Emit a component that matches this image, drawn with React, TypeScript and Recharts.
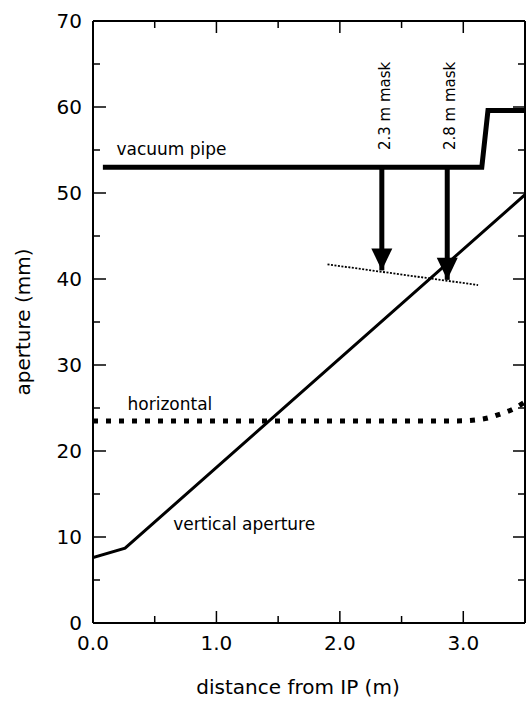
import React from "react";
import { LineChart, Line, XAxis, YAxis, ReferenceDot } from "recharts";

// values (x in m, y in mm)
const pipeX = [0.08, 3.15, 3.2, 3.5];
const pipeY = [53, 53, 59.6, 59.6];

const vertX = [0, 0.26, 3.5];
const vertY = [7.6, 8.7, 49.8];

const horizX = [0, 2.95, 3.15, 3.3, 3.42, 3.5];
const horizY = [23.5, 23.5, 23.7, 24.3, 25.0, 25.7];

const maskLineX = [1.9, 3.12];
const maskLineY = [41.7, 39.3];

const maskX = [2.34, 2.87];
const maskTipY = [41.0, 39.9];
const maskNames = ["2.3 m mask", "2.8 m mask"];
const maskLabelY = 55.0;

const xTicks = [0, 0.5, 1, 1.5, 2, 2.5, 3, 3.5];
const yTicks = [0, 5, 10, 15, 20, 25, 30, 35, 40, 45, 50, 55, 60, 65, 70];

const notes = [
  { text: "vacuum pipe", x: 0.19, y: 54.4 },
  { text: "horizontal", x: 0.28, y: 24.8 },
  { text: "vertical aperture", x: 0.65, y: 10.8 },
];

const toPoints = (xs: number[], ys: number[]) =>
  xs.map((x, i) => ({ x, y: ys[i] }));

const FONT = "DejaVu Sans";

const BottomTick = ({ x, y, payload }: any) => {
  const major = payload.value % 1 === 0;
  return (
    <g>
      <line x1={x} x2={x} y1={y} y2={y - (major ? 12 : 7)} stroke="#000" strokeWidth={1.5} />
      {major && (
        <text x={x} y={y + 27} textAnchor="middle" fontSize={20} fontFamily={FONT} fill="#000">
          {payload.value.toFixed(1)}
        </text>
      )}
    </g>
  );
};

const TopTick = ({ x, y, payload }: any) => {
  const major = payload.value % 1 === 0;
  return <line x1={x} x2={x} y1={y} y2={y + (major ? 12 : 7)} stroke="#000" strokeWidth={1.5} />;
};

const LeftTick = ({ x, y, payload }: any) => {
  const major = payload.value % 10 === 0;
  return (
    <g>
      <line x1={x} x2={x + (major ? 13 : 7)} y1={y} y2={y} stroke="#000" strokeWidth={1.5} />
      {major && (
        <text x={x - 11} y={y + 7} textAnchor="end" fontSize={20} fontFamily={FONT} fill="#000">
          {payload.value}
        </text>
      )}
    </g>
  );
};

const RightTick = ({ x, y, payload }: any) => {
  const major = payload.value % 10 === 0;
  return <line x1={x} x2={x - (major ? 12 : 7)} y1={y} y2={y} stroke="#000" strokeWidth={1.5} />;
};

const ArrowHead = (props: any) => {
  const { cx, cy, index } = props;
  if (index !== 1) return <g key={`a${index}`} />;
  return (
    <path
      key={`a${index}`}
      d={`M${cx - 10.5},${cy - 22} L${cx + 10.5},${cy - 22} L${cx},${cy} Z`}
      fill="#000"
    />
  );
};

export default function App() {
  return (
    <div style={{ position: "absolute", left: 0, top: 0, background: "#fff" }}>
      <LineChart width={528} height={702} margin={{ top: 20, right: 2, bottom: 0, left: 0 }}>
        <XAxis
          xAxisId="b"
          type="number"
          dataKey="x"
          domain={[0, 3.5]}
          allowDataOverflow
          ticks={xTicks}
          interval={0}
          height={79}
          tickSize={0}
          tickMargin={0}
          tickLine={false}
          tick={<BottomTick />}
          axisLine={{ stroke: "#000", strokeWidth: 2 }}
          label={{
            content: () => (
              <text x={298} y={694} textAnchor="middle" fontSize={20} fontFamily={FONT} fill="#000">
                distance from IP (m)
              </text>
            ),
          }}
        />
        <XAxis
          xAxisId="t"
          orientation="top"
          type="number"
          dataKey="x"
          domain={[0, 3.5]}
          allowDataOverflow
          ticks={xTicks}
          interval={0}
          height={1}
          tickSize={0}
          tickMargin={0}
          tickLine={false}
          tick={<TopTick />}
          axisLine={{ stroke: "#000", strokeWidth: 2 }}
        />
        <YAxis
          yAxisId="l"
          type="number"
          domain={[0, 70]}
          allowDataOverflow
          ticks={yTicks}
          interval={0}
          width={93}
          tickSize={0}
          tickMargin={0}
          tickLine={false}
          tick={<LeftTick />}
          axisLine={{ stroke: "#000", strokeWidth: 2 }}
          label={{
            content: ({ viewBox }: any) => (
              <text
                transform={`translate(30, ${viewBox.y + viewBox.height / 2}) rotate(-90)`}
                textAnchor="middle"
                fontSize={20}
                fontFamily={FONT}
                fill="#000"
              >
                aperture (mm)
              </text>
            ),
          }}
        />
        <YAxis
          yAxisId="r"
          orientation="right"
          type="number"
          domain={[0, 70]}
          allowDataOverflow
          ticks={yTicks}
          interval={0}
          width={1}
          tickSize={0}
          tickMargin={0}
          tickLine={false}
          tick={<RightTick />}
          axisLine={{ stroke: "#000", strokeWidth: 2 }}
        />

        {/* invisible series so the top and right frame axes get drawn */}
        <Line
          xAxisId="t"
          yAxisId="r"
          data={toPoints(vertX, vertY)}
          dataKey="y"
          stroke="none"
          dot={false}
          activeDot={false}
          isAnimationActive={false}
        />

        <Line
          xAxisId="b"
          yAxisId="l"
          data={toPoints(horizX, horizY)}
          dataKey="y"
          type="monotone"
          stroke="#000"
          strokeWidth={5}
          strokeDasharray="5 8"
          dot={false}
          isAnimationActive={false}
        />
        <Line
          xAxisId="b"
          yAxisId="l"
          data={toPoints(vertX, vertY)}
          dataKey="y"
          type="linear"
          stroke="#000"
          strokeWidth={3}
          dot={false}
          isAnimationActive={false}
        />
        <Line
          xAxisId="b"
          yAxisId="l"
          data={toPoints(pipeX, pipeY)}
          dataKey="y"
          type="linear"
          stroke="#000"
          strokeWidth={5}
          dot={false}
          isAnimationActive={false}
        />
        <Line
          xAxisId="b"
          yAxisId="l"
          data={toPoints(maskLineX, maskLineY)}
          dataKey="y"
          type="linear"
          stroke="#000"
          strokeWidth={1.8}
          strokeDasharray="2 1.5"
          dot={false}
          isAnimationActive={false}
        />
        {maskX.map((mx, i) => (
          <Line
            key={`arrow${i}`}
            xAxisId="b"
            yAxisId="l"
            data={[
              { x: mx, y: pipeY[0] },
              { x: mx, y: maskTipY[i] },
            ]}
            dataKey="y"
            type="linear"
            stroke="#000"
            strokeWidth={5}
            dot={ArrowHead}
            activeDot={false}
            isAnimationActive={false}
          />
        ))}

        {notes.map((n) => (
          <ReferenceDot
            key={n.text}
            xAxisId="b"
            yAxisId="l"
            x={n.x}
            y={n.y}
            r={0}
            shape={(p: any) => (
              <text x={p.cx} y={p.cy} fontSize={17} fontFamily={FONT} fill="#000">
                {n.text}
              </text>
            )}
          />
        ))}
        {maskX.map((mx, i) => (
          <ReferenceDot
            key={maskNames[i]}
            xAxisId="b"
            yAxisId="l"
            x={mx}
            y={maskLabelY}
            r={0}
            shape={(p: any) => (
              <text
                transform={`translate(${p.cx + 8}, ${p.cy}) rotate(-90)`}
                fontSize={15}
                fontFamily={FONT}
                fill="#000"
              >
                {maskNames[i]}
              </text>
            )}
          />
        ))}
      </LineChart>
    </div>
  );
}
